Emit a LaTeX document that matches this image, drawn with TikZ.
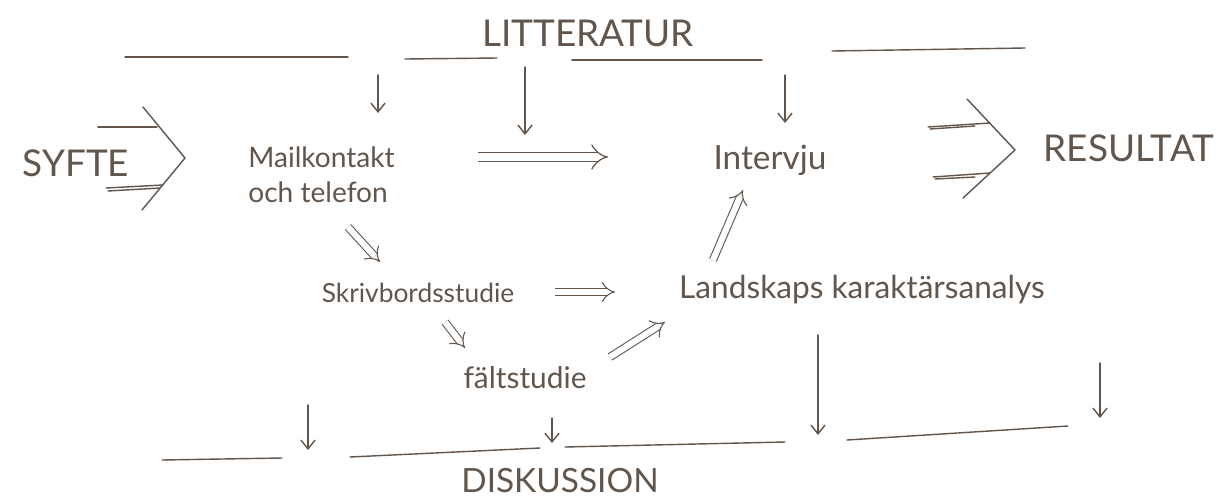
\documentclass[tikz,border=0pt]{standalone}
\usepackage{fontspec}
\setmainfont{Lato}
\usetikzlibrary{arrows.meta}
\definecolor{ink}{RGB}{98,86,76}
\tikzset{
  bigtxt/.style={text=ink, font=\fontsize{21}{24}\selectfont, inner sep=0pt},
  smalltxt/.style={text=ink, inner sep=0pt, align=left},
  pen/.style={draw=ink, line width=0.8pt, line cap=round, line join=round},
  sarrow/.style={pen, -{Straight Barb[length=5pt,width=8pt]}},
  darrow/.style={draw=ink, line width=0.7pt, double=white, double distance=4.5pt, -{Implies}},
  dsmall/.style={draw=ink, line width=0.6pt, double=white, double distance=3.5pt, -{Implies}},
}
\begin{document}
\begin{tikzpicture}[x=0.02cm,y=-0.02cm]
\fill[white] (0,0) rectangle (1217,501);
\useasboundingbox (0,0) rectangle (1217,501);

% headings
\node[bigtxt] (lit) at (588,33) {LITTERATUR};
\node[bigtxt] (syfte) at (76,163) {SYFTE};
\node[bigtxt] (res) at (1129,148) {RESULTAT};
\node[bigtxt, font=\fontsize{19}{22}\selectfont] (disk) at (560,481) {DISKUSSION};

% text nodes
\node[smalltxt, anchor=west, font=\fontsize{16}{20}\selectfont] (mail) at (248,175) {Mailkontakt\\och telefon};
\node[smalltxt, font=\fontsize{19}{22}\selectfont] (intv) at (770,160) {Intervju};
\node[smalltxt, font=\fontsize{15}{18}\selectfont] (skriv) at (418,293) {Skrivbordsstudie};
\node[smalltxt, font=\fontsize{18}{21}\selectfont] (land) at (862,290) {Landskaps karaktärsanalys};
\node[smalltxt, font=\fontsize{17}{20}\selectfont] (falt) at (525,378) {fältstudie};

% top bars
\draw[pen] (125,57) -- (348,57);
\draw[pen] (405,59) -- (497,58);
\draw[pen] (572,60) -- (762,60);
\draw[pen] (832,51) -- (1025,48);
% bottom bars
\draw[pen] (162,460) -- (282,458);
\draw[pen] (350,457) -- (540,448);
\draw[pen] (565,447) -- (785,442);
\draw[pen] (847,440) -- (1068,426);

% left chevron
\draw[pen] (98,127) -- (157,127);
\draw[pen] (143,107) -- (185,158) -- (142,210);
\draw[pen] (106,188) -- (163,185);
\draw[pen] (108,191) -- (160,188);
% right chevron
\draw[pen] (928,127) -- (990,123);
\draw[pen] (930,129) -- (975,126);
\draw[pen] (967,99) -- (1015,150) -- (963,198);
\draw[pen] (933,177) -- (990,173);
\draw[pen] (935,179) -- (975,177);

% coordinates for connector ends
\coordinate (l1) at (378,75);   \coordinate (m1) at (378,113);
\coordinate (l2) at (525,67);   \coordinate (m2) at (525,135);
\coordinate (l3) at (785,75);   \coordinate (i1) at (785,123);
\coordinate (ms) at (478,157);  \coordinate (ie) at (608,157);
\coordinate (md) at (348,227);  \coordinate (sd) at (380,262);
\coordinate (sr) at (555,292);  \coordinate (lr) at (615,292);
\coordinate (sf) at (445,322);  \coordinate (ft) at (465,348);
\coordinate (fl) at (610,357);  \coordinate (lf) at (665,322);
\coordinate (lu) at (713,260);  \coordinate (iu) at (743,190);
\coordinate (b1) at (308,405);  \coordinate (e1) at (308,450);
\coordinate (b2) at (552,418);  \coordinate (e2) at (552,443);
\coordinate (b3) at (818,335);  \coordinate (e3) at (818,435);
\coordinate (b4) at (1100,363); \coordinate (e4) at (1100,418);

% single arrows
\draw[sarrow] (l1) -- (m1);
\draw[sarrow] (l2) -- (m2);
\draw[sarrow] (l3) -- (i1);
\draw[sarrow] (b1) -- (e1);
\draw[sarrow] (b2) -- (e2);
\draw[sarrow] (b3) -- (e3);
\draw[sarrow] (b4) -- (e4);

% double arrows
\draw[darrow] (ms) -- (ie);
\draw[dsmall] (md) -- (sd);
\draw[dsmall] (sr) -- (lr);
\draw[dsmall] (sf) -- (ft);
\draw[dsmall] (fl) -- (lf);
\draw[dsmall] (lu) -- (iu);
\end{tikzpicture}
\end{document}
